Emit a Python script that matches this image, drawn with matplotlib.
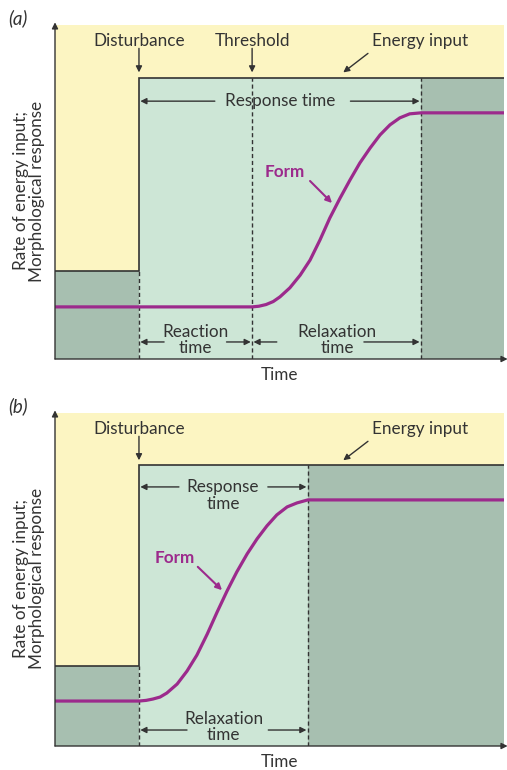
import matplotlib.pyplot as plt

plt.rcParams['font.family'] = ['Lato', 'DejaVu Sans']

# colours
yellow = '#fcf5c2'
light_green = '#cde6d6'
dark_green = '#a7bfb0'
form_color = '#9c2a8c'
ink = '#333333'

# panel (a): times on a 0-100 axis, levels on a 0-100 axis
a_disturb = 18.7
a_threshold = 43.9
a_end = 81.5
a_energy_low = 26.3
a_energy_high = 84.1
a_form_t = [0, 43.9, 45.4, 47.0, 48.6, 50.1, 52.3, 54.6, 56.8, 59.0, 61.2, 63.5,
            65.7, 67.9, 70.2, 72.4, 74.6, 76.8, 79.0, 81.5, 100]
a_form_y = [15.6, 15.6, 15.8, 16.3, 17.2, 18.6, 21.3, 25.1, 29.6, 35.6, 42.2, 48.2,
            53.6, 58.7, 63.2, 67.1, 70.1, 72.2, 73.4, 73.7, 73.7]

# panel (b)
b_disturb = 18.7
b_end = 56.3
b_energy_low = 24.0
b_energy_high = 84.4
b_form_t = [0, 18.7, 20.3, 21.8, 23.4, 24.9, 27.2, 29.4, 31.6, 33.9, 36.1, 38.3,
            40.5, 42.8, 45.0, 47.2, 49.4, 51.7, 53.9, 56.3, 100]
b_form_y = [13.5, 13.5, 13.7, 14.1, 14.7, 15.9, 18.6, 22.5, 27.3, 33.6, 40.2, 46.5,
            52.3, 57.7, 62.2, 66.1, 69.4, 71.8, 73.0, 73.9, 73.9]

FS = 12.3


def arrow(ax, start, end):
    ax.annotate('', xy=end, xytext=start,
                arrowprops=dict(arrowstyle='-|>', color=ink, lw=1.0,
                                mutation_scale=9, shrinkA=0, shrinkB=0),
                annotation_clip=False)


def draw_panel(ax, letter, disturb, end, low, high, form_t, form_y, extra_dashes):
    ax.set_xlim(0, 100)
    ax.set_ylim(0, 100)
    ax.axis('off')

    # background regions
    step_t = [0, disturb, disturb, 100]
    step_y = [low, low, high, high]
    ax.fill_between(step_t, step_y, 100, color=yellow, lw=0)
    ax.fill_between([0, disturb], 0, low, color=dark_green, lw=0)
    ax.fill_between([disturb, end], 0, high, color=light_green, lw=0)
    ax.fill_between([end, 100], 0, high, color=dark_green, lw=0)

    # energy input line
    ax.plot(step_t, step_y, color=ink, lw=1.2, solid_joinstyle='miter')

    # dashed guide lines
    ax.plot([disturb, disturb], [0, low], color=ink, lw=1.0, ls=(0, (3, 2)))
    for t in extra_dashes + [end]:
        ax.plot([t, t], [0, high], color=ink, lw=1.0, ls=(0, (3, 2)))

    # form curve
    ax.plot(form_t, form_y, color=form_color, lw=2.3, solid_joinstyle='round',
            solid_capstyle='butt')

    # axes with arrows
    arrow(ax, (0, 0), (0, 100.8))
    arrow(ax, (0, 0), (100.8, 0))

    ax.text(-8.3, 102, '(' + letter + ')', fontsize=13.5, fontstyle='italic',
            color=ink, ha='center', va='center')
    ax.text(50.1, -4.8, 'Time', fontsize=FS, color=ink, ha='center', va='center')
    ax.text(-5.8, 50.3, 'Rate of energy input;\nMorphological response', fontsize=FS,
            color=ink, rotation=90, ha='center', va='center', linespacing=1.05)

    # disturbance label
    ax.text(disturb, 95.2, 'Disturbance', fontsize=FS, color=ink, ha='center', va='center')
    arrow(ax, (disturb, 93.0), (disturb, 85.8))

    # energy input label
    ax.text(81.3, 95.2, 'Energy input', fontsize=FS, color=ink, ha='center', va='center')
    arrow(ax, (69.7, 91.5), (64.2, 85.8))


fig = plt.figure(figsize=(5.07, 7.70), dpi=100)
ax_a = fig.add_axes([55 / 507, 411 / 770, 449 / 507, 334 / 770])
ax_b = fig.add_axes([55 / 507, 24 / 770, 449 / 507, 333 / 770])

# ---- panel (a)
draw_panel(ax_a, 'a', a_disturb, a_end, a_energy_low, a_energy_high,
           a_form_t, a_form_y, [a_threshold])
ax_a.text(a_threshold, 95.2, 'Threshold', fontsize=FS, color=ink, ha='center', va='center')
arrow(ax_a, (a_threshold, 93.0), (a_threshold, 85.8))

ax_a.text(50.1, 77.2, 'Response time', fontsize=FS, color=ink, ha='center', va='center')
arrow(ax_a, (35.6, 77.2), (a_disturb + 0.3, 77.2))
arrow(ax_a, (65.8, 77.2), (a_end - 0.3, 77.2))

ax_a.text(31.2, 5.6, 'Reaction\ntime', fontsize=FS, color=ink, ha='center', va='center',
          linespacing=1.0)
arrow(ax_a, (24.3, 5.1), (a_disturb + 0.3, 5.1))
arrow(ax_a, (38.2, 5.1), (a_threshold - 0.3, 5.1))

ax_a.text(62.8, 5.6, 'Relaxation\ntime', fontsize=FS, color=ink, ha='center', va='center',
          linespacing=1.0)
arrow(ax_a, (49.4, 5.1), (a_threshold + 0.3, 5.1))
arrow(ax_a, (68.8, 5.1), (a_end - 0.3, 5.1))

ax_a.text(51.2, 56.0, 'Form', fontsize=FS, color=form_color, fontweight='bold',
          ha='center', va='center')
ax_a.annotate('', xy=(61.7, 46.7), xytext=(56.8, 53.3),
              arrowprops=dict(arrowstyle='-|>', color=form_color, lw=1.5,
                              mutation_scale=9, shrinkA=0, shrinkB=0))

# ---- panel (b)
draw_panel(ax_b, 'b', b_disturb, b_end, b_energy_low, b_energy_high,
           b_form_t, b_form_y, [])

ax_b.text(37.4, 77.8, 'Response', fontsize=FS, color=ink, ha='center', va='center')
ax_b.text(37.4, 72.6, 'time', fontsize=FS, color=ink, ha='center', va='center')
arrow(ax_b, (27.6, 77.8), (b_disturb + 0.3, 77.8))
arrow(ax_b, (47.4, 77.8), (b_end - 0.3, 77.8))

ax_b.text(37.6, 5.8, 'Relaxation\ntime', fontsize=FS, color=ink, ha='center', va='center',
          linespacing=1.0)
arrow(ax_b, (29.4, 4.8), (b_disturb + 0.3, 4.8))
arrow(ax_b, (47.5, 4.8), (b_end - 0.3, 4.8))

ax_b.text(26.7, 56.5, 'Form', fontsize=FS, color=form_color, fontweight='bold',
          ha='center', va='center')
ax_b.annotate('', xy=(37.2, 46.8), xytext=(31.8, 53.8),
              arrowprops=dict(arrowstyle='-|>', color=form_color, lw=1.5,
                              mutation_scale=9, shrinkA=0, shrinkB=0))

fig.savefig('out.png', dpi=100, facecolor='white')
